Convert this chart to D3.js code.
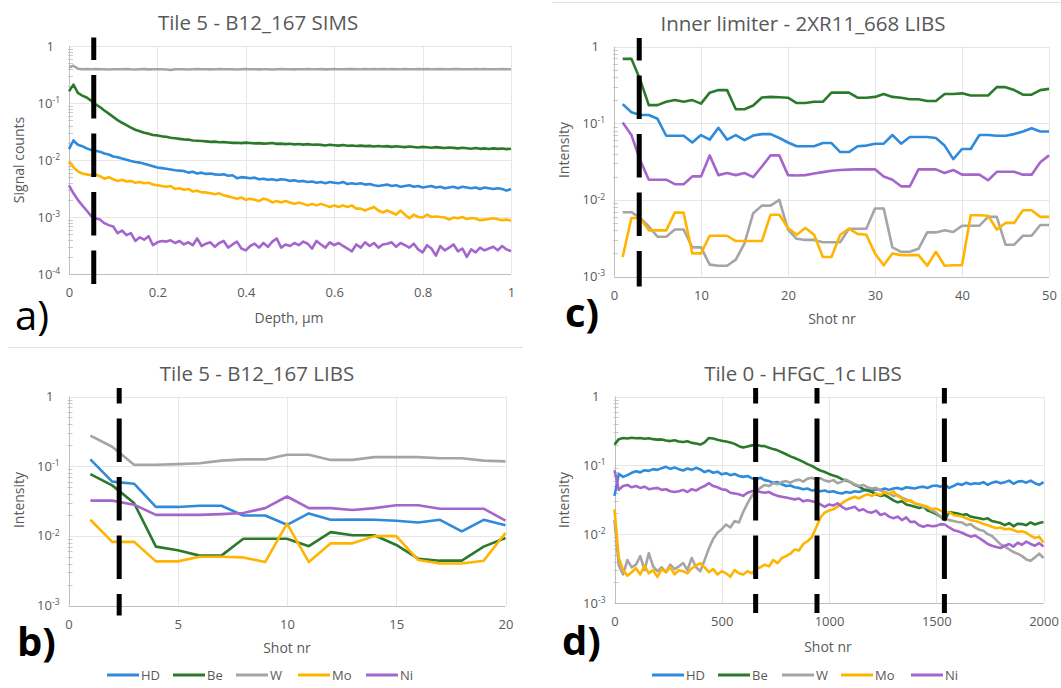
<!DOCTYPE html>
<html>
<head>
<meta charset="utf-8">
<script src="https://cdnjs.cloudflare.com/ajax/libs/d3/7.8.5/d3.min.js"></script>
<style>
  body { margin: 0; background: #fff; }
  text { font-family: "Open Sans", sans-serif; fill: #595959; }
</style>
</head>
<body>
<div id="chart"></div>
<script>
// series shared by all panels
var seriesNames = ["HD", "Be", "W", "Mo", "Ni"]
var seriesColors = ["#2F8ADB", "#2B7A2B", "#A5A5A5", "#FFB400", "#A566CC"]

// a) SIMS depth profile, every 0.01 um
var depthA = d3.range(0, 101).map(function(i) { return i / 100 })
var hdA = [0.0155,
  0.022, 0.0185, 0.0175, 0.016, 0.015,  0.0145, 0.014, 0.013, 0.0125, 0.0115,
  0.0112, 0.0106, 0.0101, 0.0096, 0.0092,  0.009, 0.0086, 0.0082, 0.0078, 0.0074,
  0.0072, 0.007, 0.0068, 0.0066, 0.0065,  0.0064, 0.006, 0.0062, 0.0058, 0.006,
  0.0057, 0.0058, 0.0056, 0.0055, 0.0056,  0.0053, 0.0054, 0.0048, 0.005, 0.0049,
  0.0048, 0.0049, 0.0046, 0.0047, 0.0045,  0.0046, 0.0044, 0.0046, 0.0045, 0.0043,
  0.0044, 0.0042, 0.0043, 0.0041, 0.0042,  0.004, 0.0041, 0.0039, 0.0041, 0.004,
  0.0039, 0.0041, 0.0038, 0.0039, 0.0038,  0.0039, 0.0037, 0.0038, 0.0036, 0.0035,
  0.0036, 0.0037, 0.0035, 0.0036, 0.0034,  0.0035, 0.0036, 0.0034, 0.0035, 0.0033,
  0.0034, 0.0035, 0.0033, 0.0034, 0.0032,  0.0033, 0.0034, 0.0032, 0.0034, 0.0033,
  0.0032, 0.0033, 0.0031, 0.0033, 0.0032,  0.0031, 0.0032, 0.0031, 0.0029, 0.0031]
var beA = [0.16,
  0.21, 0.15, 0.135, 0.125, 0.11,  0.095, 0.085, 0.074, 0.065, 0.057,
  0.05, 0.045, 0.041, 0.037, 0.034,  0.032, 0.03, 0.029, 0.0275, 0.027,
  0.026, 0.0255, 0.0245, 0.024, 0.0235,  0.023, 0.0228, 0.022, 0.0218, 0.0215,
  0.0212, 0.0208, 0.021, 0.0205, 0.0206,  0.0203, 0.02, 0.0201, 0.0198, 0.0202,
  0.0199, 0.0196, 0.0198, 0.0194, 0.0196,  0.0199, 0.0192, 0.0194, 0.019, 0.0193,
  0.0188, 0.0191, 0.0186, 0.019, 0.0185,  0.0187, 0.0184, 0.018, 0.0185, 0.0182,
  0.0179, 0.0183, 0.0178, 0.018, 0.0176,  0.0179, 0.0175, 0.0177, 0.0172, 0.0176,
  0.0173, 0.0175, 0.017, 0.0174, 0.0171,  0.0168, 0.0172, 0.0169, 0.0166, 0.017,
  0.0167, 0.0164, 0.0168, 0.0165, 0.0162,  0.0166, 0.0163, 0.016, 0.0164, 0.0161,
  0.0158, 0.0162, 0.0157, 0.016, 0.0156,  0.016, 0.0157, 0.0159, 0.0155, 0.0158]
var wA = [0.42,
  0.45, 0.40, 0.39, 0.395, 0.39,  0.395, 0.39, 0.392, 0.388, 0.39,
  0.392, 0.39, 0.394, 0.39, 0.388,  0.39, 0.393, 0.389, 0.39, 0.392,
  0.39, 0.386, 0.38, 0.39, 0.392,  0.39, 0.388, 0.391, 0.393, 0.39,
  0.392, 0.389, 0.39, 0.394, 0.391,  0.39, 0.392, 0.388, 0.39, 0.393,
  0.39, 0.391, 0.389, 0.392, 0.39,  0.388, 0.391, 0.394, 0.39, 0.392,
  0.389, 0.392, 0.39, 0.394, 0.39,  0.391, 0.393, 0.389, 0.391, 0.395,
  0.392, 0.39, 0.393, 0.396, 0.392,  0.39, 0.393, 0.391, 0.394, 0.392,
  0.395, 0.391, 0.393, 0.39, 0.392,  0.394, 0.39, 0.392, 0.395, 0.391,
  0.393, 0.39, 0.392, 0.394, 0.391,  0.39, 0.393, 0.396, 0.392, 0.39,
  0.392, 0.394, 0.39, 0.393, 0.391,  0.39, 0.392, 0.394, 0.39, 0.392]
var moA = [0.0095,
  0.0075, 0.0063, 0.0058, 0.0056, 0.0054,  0.0056, 0.0052, 0.0047, 0.005, 0.0046,
  0.0043, 0.0045, 0.0042, 0.0043, 0.004,  0.0041, 0.0039, 0.004, 0.0037, 0.0036,
  0.0035, 0.0034, 0.0035, 0.0031, 0.0032,  0.003, 0.0031, 0.0028, 0.0029, 0.0027,
  0.0027, 0.0026, 0.0025, 0.0026, 0.0024,  0.0023, 0.0022, 0.0021, 0.0022, 0.002,
  0.0021, 0.002, 0.0019, 0.0021, 0.002,  0.0018, 0.0019, 0.0018, 0.0019, 0.0018,
  0.0017, 0.0018, 0.0017, 0.0016, 0.0017,  0.0016, 0.0017, 0.0016, 0.0015, 0.0016,
  0.0015, 0.0016, 0.0015, 0.0016, 0.0014,  0.0014, 0.0013, 0.0014, 0.0015, 0.0013,
  0.0012, 0.0013, 0.0012, 0.0011, 0.0013,  0.0011, 0.00095, 0.0011, 0.001, 0.00098,
  0.0011, 0.001, 0.00102, 0.001, 0.00098,  0.0009, 0.00098, 0.00095, 0.001, 0.00092,
  0.00096, 0.00094, 0.00088, 0.0009, 0.00092,  0.00095, 0.00091, 0.00088, 0.0009, 0.00086]
var niA = [0.0036,
  0.0026, 0.002, 0.0016, 0.0013, 0.00105,  0.00095, 0.0009, 0.00078, 0.00072, 0.00068,
  0.00052, 0.00058, 0.00048, 0.00052, 0.00038,  0.00044, 0.0004, 0.00046, 0.00032, 0.00036,
  0.00038, 0.00037, 0.00039, 0.00035, 0.00038,  0.00033, 0.00036, 0.00032, 0.00042, 0.00031,
  0.00034, 0.00036, 0.0003, 0.00035, 0.00038,  0.00029, 0.00033, 0.00037, 0.00028, 0.00026,
  0.00031, 0.00034, 0.00029, 0.00035, 0.0003,  0.00037, 0.00042, 0.00029, 0.00033, 0.00031,
  0.00035, 0.00032, 0.00037, 0.00034, 0.00028,  0.00038, 0.00033, 0.00029, 0.00036, 0.00032,
  0.00035, 0.00031, 0.00028, 0.00025, 0.00033,  0.00029, 0.00036, 0.00031, 0.00035, 0.00029,
  0.00033, 0.00034, 0.00036, 0.0003, 0.00035,  0.00032, 0.00029, 0.00034, 0.00027, 0.00024,
  0.00032, 0.00028, 0.00021, 0.00031, 0.00026,  0.00029, 0.00033, 0.00025, 0.00028, 0.0002,
  0.00027, 0.00024, 0.00029, 0.00026, 0.00028,  0.0003, 0.00026, 0.00031, 0.00027, 0.00025]

// b) LIBS, tile 5, shots 1-20
var shotsB = [1, 2, 3, 4, 5, 6, 7, 8, 9, 10, 11, 12, 13, 14, 15, 16, 17, 18, 19, 20]
var hdB = [0.125, 0.06, 0.056, 0.026, 0.026, 0.027, 0.027, 0.0196, 0.0196, 0.0144,
  0.021, 0.017, 0.0172, 0.017, 0.0165, 0.0155, 0.017, 0.0116, 0.017, 0.0142]
var beB = [0.077, 0.053, 0.0295, 0.007, 0.0062, 0.0052, 0.0052, 0.0091, 0.0091, 0.0091,
  0.0071, 0.0113, 0.0102, 0.0102, 0.0074, 0.0047, 0.0044, 0.0044, 0.007, 0.0093]
var wB = [0.275, 0.19, 0.105, 0.105, 0.107, 0.11, 0.12, 0.125, 0.125, 0.146,
  0.146, 0.123, 0.123, 0.135, 0.135, 0.135, 0.13, 0.13, 0.12, 0.117]
var moB = [0.017, 0.0082, 0.0082, 0.0043, 0.0043, 0.005, 0.005, 0.0049, 0.0042, 0.015,
  0.0042, 0.0078, 0.0078, 0.0099, 0.0099, 0.0045, 0.004, 0.004, 0.0044, 0.011]
var niB = [0.032, 0.032, 0.028, 0.02, 0.02, 0.02, 0.0205, 0.0213, 0.025, 0.0367,
  0.025, 0.025, 0.0235, 0.025, 0.0275, 0.0275, 0.0245, 0.0245, 0.0245, 0.0165]

// c) LIBS, inner limiter, shots 1-50
var shotsC = d3.range(1, 51)
var hdC = [0.177, 0.139, 0.128, 0.128, 0.114, 0.0685, 0.0685, 0.0685, 0.056, 0.07,
  0.061, 0.087, 0.061, 0.07, 0.06, 0.069, 0.072, 0.072, 0.064, 0.056,
  0.05, 0.05, 0.05, 0.055, 0.055, 0.042, 0.042, 0.05, 0.051, 0.054,
  0.054, 0.07, 0.054, 0.066, 0.066, 0.066, 0.064, 0.051, 0.034, 0.046,
  0.046, 0.07, 0.07, 0.0685, 0.0685, 0.072, 0.078, 0.086, 0.078, 0.078]
var beC = [0.69, 0.69, 0.37, 0.172, 0.172, 0.19, 0.2, 0.19, 0.2, 0.18,
  0.25, 0.27, 0.27, 0.152, 0.152, 0.17, 0.216, 0.22, 0.218, 0.215,
  0.183, 0.183, 0.19, 0.19, 0.25, 0.25, 0.25, 0.215, 0.215, 0.22,
  0.24, 0.22, 0.215, 0.205, 0.205, 0.195, 0.195, 0.24, 0.24, 0.245,
  0.23, 0.23, 0.23, 0.295, 0.295, 0.27, 0.235, 0.235, 0.27, 0.28]
var wC = [0.0069, 0.0069, 0.0058, 0.0045, 0.0033, 0.0033, 0.0041, 0.0041, 0.0024, 0.0024,
  0.00143, 0.00138, 0.00138, 0.00166, 0.0027, 0.0067, 0.0084, 0.0084, 0.01, 0.0041,
  0.0031, 0.003, 0.003, 0.0028, 0.0028, 0.0028, 0.0042, 0.0042, 0.0042, 0.0077,
  0.0077, 0.0024, 0.0021, 0.0021, 0.0023, 0.00376, 0.00376, 0.004, 0.0038, 0.0046,
  0.0046, 0.0046, 0.006, 0.006, 0.0026, 0.0026, 0.0034, 0.0034, 0.0047, 0.0047]
var moC = [0.0018, 0.0058, 0.0058, 0.004, 0.004, 0.004, 0.0068, 0.0068, 0.002, 0.002,
  0.0034, 0.0034, 0.0034, 0.0029, 0.0029, 0.0029, 0.0029, 0.0064, 0.0064, 0.0043,
  0.0035, 0.0043, 0.0035, 0.0018, 0.0018, 0.0035, 0.0042, 0.0036, 0.0035, 0.002,
  0.0014, 0.002, 0.0019, 0.0019, 0.0019, 0.00138, 0.0021, 0.00138, 0.0014, 0.0014,
  0.0063, 0.0063, 0.0062, 0.0041, 0.005, 0.005, 0.0073, 0.0073, 0.006, 0.006]
var niC = [0.102, 0.07, 0.033, 0.0183, 0.0183, 0.0183, 0.016, 0.016, 0.0202, 0.0202,
  0.038, 0.021, 0.0224, 0.021, 0.0224, 0.0198, 0.0272, 0.038, 0.038, 0.021,
  0.0208, 0.021, 0.022, 0.023, 0.024, 0.0245, 0.0248, 0.025, 0.025, 0.025,
  0.0202, 0.0183, 0.015, 0.015, 0.025, 0.025, 0.025, 0.0224, 0.0245, 0.0213,
  0.0213, 0.0213, 0.018, 0.0232, 0.0232, 0.0232, 0.0213, 0.0213, 0.031, 0.038]

// d) LIBS, tile 0, every 20 shots
var shotsD = d3.range(0, 2001, 20)
var hdD = [0.036,
  0.075, 0.068, 0.072, 0.078, 0.082,  0.079, 0.085, 0.083, 0.088, 0.086,
  0.091, 0.095, 0.089, 0.093, 0.088,  0.084, 0.09, 0.086, 0.092, 0.087,
  0.08, 0.084, 0.078, 0.081, 0.074,  0.077, 0.072, 0.075, 0.07, 0.068,
  0.07, 0.065, 0.063, 0.066, 0.061,  0.059, 0.056, 0.057, 0.053, 0.05,
  0.051, 0.048, 0.047, 0.045, 0.046,  0.043, 0.044, 0.042, 0.043, 0.041,
  0.042, 0.04, 0.039, 0.041, 0.04,  0.042, 0.041, 0.043, 0.044, 0.043,
  0.045, 0.044, 0.046, 0.044, 0.046,  0.047, 0.045, 0.048, 0.047, 0.046,
  0.048, 0.049, 0.047, 0.05, 0.051,  0.049, 0.052, 0.047, 0.05, 0.054,
  0.052, 0.056, 0.053, 0.055, 0.054,  0.057, 0.052, 0.056, 0.058, 0.055,
  0.057, 0.06, 0.054, 0.058, 0.059,  0.056, 0.06, 0.055, 0.052, 0.057]
var beD = [0.2,
  0.24, 0.25, 0.245, 0.252, 0.247,  0.25, 0.243, 0.248, 0.24, 0.236,
  0.238, 0.23, 0.225, 0.232, 0.222,  0.218, 0.224, 0.212, 0.208, 0.2,
  0.215, 0.25, 0.245, 0.235, 0.228,  0.222, 0.215, 0.205, 0.19, 0.182,
  0.188, 0.195, 0.198, 0.192, 0.19,  0.18, 0.172, 0.165, 0.155, 0.145,
  0.135, 0.128, 0.12, 0.112, 0.104,  0.098, 0.09, 0.084, 0.08, 0.075,
  0.071, 0.068, 0.063, 0.06, 0.057,  0.052, 0.049, 0.045, 0.043, 0.041,
  0.038, 0.036, 0.037, 0.034, 0.031,  0.029, 0.03, 0.027, 0.026, 0.025,
  0.024, 0.025, 0.022, 0.021, 0.0195,  0.018, 0.016, 0.021, 0.0205, 0.02,
  0.019, 0.0195, 0.018, 0.0175, 0.017,  0.0165, 0.017, 0.0155, 0.015, 0.0145,
  0.0135, 0.0145, 0.013, 0.0142, 0.014,  0.0135, 0.0148, 0.0138, 0.0145, 0.015]
var wD = [0.016,
  0.0035, 0.0026, 0.0042, 0.0033, 0.0036,  0.0048, 0.003, 0.0053, 0.0034, 0.0029,
  0.0033, 0.0028, 0.0036, 0.0031, 0.0034,  0.0038, 0.003, 0.0045, 0.0033, 0.0029,
  0.0042, 0.0062, 0.0085, 0.0105, 0.0118,  0.0138, 0.0125, 0.0155, 0.0148, 0.021,
  0.028, 0.036, 0.042, 0.047, 0.052,  0.05, 0.055, 0.053, 0.057, 0.059,
  0.056, 0.06, 0.062, 0.058, 0.064,  0.066, 0.062, 0.065, 0.06, 0.058,
  0.061, 0.055, 0.058, 0.062, 0.057,  0.053, 0.05, 0.052, 0.048, 0.046,
  0.047, 0.043, 0.041, 0.039, 0.036,  0.037, 0.034, 0.032, 0.03, 0.028,
  0.027, 0.025, 0.024, 0.022, 0.0205,  0.018, 0.017, 0.016, 0.0155, 0.015,
  0.0148, 0.0135, 0.014, 0.0125, 0.0116,  0.0112, 0.01, 0.0094, 0.0082, 0.0071,
  0.0066, 0.006, 0.0055, 0.0052, 0.0048,  0.0043, 0.0041, 0.0046, 0.0052, 0.0045]
var moD = [0.023,
  0.0045, 0.003, 0.0025, 0.0028, 0.0032,  0.0026, 0.0035, 0.0027, 0.003, 0.0024,
  0.0031, 0.0028, 0.0033, 0.0026, 0.003,  0.0029, 0.0027, 0.0032, 0.0035, 0.0038,
  0.0033, 0.0028, 0.0031, 0.0026, 0.0029,  0.0027, 0.0024, 0.003, 0.0027, 0.0026,
  0.0029, 0.0027, 0.0031, 0.0033, 0.0036,  0.0034, 0.0042, 0.0038, 0.0045, 0.0048,
  0.0052, 0.006, 0.0058, 0.0072, 0.0079,  0.009, 0.0125, 0.0175, 0.0205, 0.022,
  0.023, 0.025, 0.028, 0.031, 0.033,  0.035, 0.033, 0.036, 0.038, 0.036,
  0.039, 0.037, 0.041, 0.038, 0.042,  0.036, 0.033, 0.03, 0.031, 0.028,
  0.027, 0.026, 0.025, 0.023, 0.0235,  0.022, 0.0205, 0.021, 0.019, 0.0185,
  0.018, 0.017, 0.016, 0.0155, 0.015,  0.014, 0.0135, 0.0128, 0.0122, 0.0125,
  0.0118, 0.012, 0.0115, 0.0108, 0.011,  0.0105, 0.0095, 0.0088, 0.0092, 0.0075]
var niD = [0.085,
  0.044, 0.05, 0.052, 0.048, 0.05,  0.047, 0.049, 0.045, 0.046, 0.047,
  0.044, 0.045, 0.042, 0.041, 0.042,  0.044, 0.041, 0.045, 0.043, 0.047,
  0.05, 0.055, 0.05, 0.048, 0.045,  0.044, 0.04, 0.039, 0.038, 0.036,
  0.04, 0.042, 0.043, 0.041, 0.04,  0.041, 0.038, 0.036, 0.035, 0.034,
  0.033, 0.032, 0.033, 0.03, 0.031,  0.03, 0.029, 0.027, 0.025, 0.027,
  0.026, 0.028, 0.025, 0.023, 0.024,  0.025, 0.022, 0.023, 0.021, 0.0205,
  0.022, 0.019, 0.02, 0.018, 0.017,  0.018, 0.016, 0.0175, 0.015, 0.0152,
  0.0135, 0.0128, 0.0135, 0.013, 0.0132,  0.014, 0.0138, 0.0125, 0.0115, 0.011,
  0.0105, 0.0098, 0.0092, 0.0096, 0.0088,  0.008, 0.0072, 0.0068, 0.0065, 0.0063,
  0.0068, 0.0072, 0.0066, 0.0075, 0.007,  0.0078, 0.0072, 0.0068, 0.0074, 0.0066]

var panels = [
  {letter: "a)", letterX: 15, letterY: 330, bold: false,
   title: "Tile 5 - B12_167 SIMS", titleX: 258, titleY: 30,
   left: 69, right: 511, top: 46, bottom: 274, yMin: 1e-4,
   xDomain: [0, 1], xTicks: [0, 0.2, 0.4, 0.6, 0.8, 1],
   xTitle: "Depth, µm", xTitleX: 289, xTitleY: 323,
   yTitle: "Signal counts", yTitleX: 19, yTitleY: 160,
   xs: depthA, series: [hdA, beA, wA, moA, niA],
   marks: [0.056], dashOffset: 21, legendY: null},
  {letter: "c)", letterX: 565, letterY: 327, bold: true,
   title: "Inner limiter - 2XR11_668 LIBS", titleX: 803, titleY: 31,
   left: 614, right: 1049, top: 46.5, bottom: 276.5, yMin: 1e-3,
   xDomain: [0, 50], xTicks: [0, 10, 20, 30, 40, 50],
   xTitle: "Shot nr", xTitleX: 832, xTitleY: 324,
   yTitle: "Intensity", yTitleX: 564, yTitleY: 150,
   xs: shotsC, series: [hdC, beC, wC, moC, niC],
   marks: [2.9], dashOffset: 21, legendY: null},
  {letter: "b)", letterX: 17, letterY: 656, bold: true,
   title: "Tile 5 - B12_167 LIBS", titleX: 257, titleY: 381,
   left: 68.5, right: 505.5, top: 396.5, bottom: 605.5, yMin: 1e-3,
   xDomain: [0, 20], xTicks: [0, 5, 10, 15, 20],
   xTitle: "Shot nr", xTitleX: 287, xTitleY: 653,
   yTitle: "Intensity", yTitleX: 19, yTitleY: 500,
   xs: shotsB, series: [hdB, beB, wB, moB, niB],
   marks: [2.32], dashOffset: 28, legendY: 675, legendX: [107, 173, 236, 298, 366]},
  {letter: "d)", letterX: 562, letterY: 655, bold: true,
   title: "Tile 0 - HFGC_1c LIBS", titleX: 803, titleY: 381,
   left: 614.5, right: 1043.5, top: 396.5, bottom: 603, yMin: 1e-3,
   xDomain: [0, 2000], xTicks: [0, 500, 1000, 1500, 2000],
   xTitle: "Shot nr", xTitleX: 828, xTitleY: 652,
   yTitle: "Intensity", yTitleX: 564, yTitleY: 500,
   xs: shotsD, series: [hdD, beD, wD, moD, niD],
   marks: [658, 944, 1538], dashOffset: 28, legendY: 675, legendX: [652, 718, 782, 841, 911]}
]

var svg = d3.select("#chart")
  .append("svg")
  .attr("width", 1061)
  .attr("height", 688)

// faint frame edges left over from the separate excel charts
svg.append("line").attr("x1", 8).attr("x2", 523).attr("y1", 347.5).attr("y2", 347.5)
  .style("stroke", "#E2E2E2")
svg.append("line").attr("x1", 552).attr("x2", 1061).attr("y1", 2.5).attr("y2", 2.5)
  .style("stroke", "#E2E2E2")

function drawPanel(p) {
  var x = d3.scaleLinear().domain(p.xDomain).range([p.left, p.right])
  var y = d3.scaleLog().domain([p.yMin, 1]).range([p.bottom, p.top])
  var g = svg.append("g")

  var decades = y.ticks().filter(function(d) { return Math.abs(Math.log10(d) - Math.round(Math.log10(d))) < 1e-9 })
  var minors = y.ticks().filter(function(d) { return Math.abs(Math.log10(d) - Math.round(Math.log10(d))) > 1e-9 })

  // gridlines
  g.selectAll(".hgrid").data(decades).enter().append("line")
    .attr("x1", p.left).attr("x2", p.right)
    .attr("y1", function(d) { return Math.round(y(d)) + 0.5 })
    .attr("y2", function(d) { return Math.round(y(d)) + 0.5 })
    .style("stroke", "#E6E6E6")
  g.selectAll(".vgrid").data(p.xTicks.slice(1)).enter().append("line")
    .attr("x1", function(d) { return Math.round(x(d)) + 0.5 })
    .attr("x2", function(d) { return Math.round(x(d)) + 0.5 })
    .attr("y1", p.top).attr("y2", p.bottom)
    .style("stroke", "#E6E6E6")

  // minor log ticks
  g.selectAll(".minor").data(minors).enter().append("line")
    .attr("x1", p.left - 1).attr("x2", p.left + 4)
    .attr("y1", function(d) { return Math.round(y(d)) + 0.5 })
    .attr("y2", function(d) { return Math.round(y(d)) + 0.5 })
    .style("stroke", "#C8C8C8")

  // axis lines
  g.append("line").attr("x1", Math.round(p.left) + 0.5).attr("x2", Math.round(p.left) + 0.5)
    .attr("y1", p.top).attr("y2", p.bottom).style("stroke", "#BFBFBF")
  g.append("line").attr("x1", p.left).attr("x2", p.right)
    .attr("y1", Math.round(p.bottom) + 0.5).attr("y2", Math.round(p.bottom) + 0.5).style("stroke", "#BFBFBF")

  // x tick labels
  var xAxis = g.append("g")
    .attr("transform", "translate(0," + p.bottom + ")")
    .call(d3.axisBottom(x).tickValues(p.xTicks).tickSize(0).tickPadding(14)
      .tickFormat(function(d) { return d }))
  xAxis.select(".domain").remove()
  xAxis.selectAll("text").style("font-size", "13px").style("fill", "#595959")
    .style("font-family", "'Open Sans', sans-serif")

  // y tick labels, 1 and 10^-n
  var yl = g.selectAll(".ylab").data(decades).enter().append("text")
    .attr("x", function(d) { return d === 1 ? p.left - 15 : p.left - 9 })
    .attr("y", function(d) { return y(d) })
    .attr("dy", "0.35em")
    .attr("text-anchor", "end")
    .style("font-size", "13px")
    .text(function(d) { return d === 1 ? "1" : "10" })
  yl.filter(function(d) { return d !== 1 }).append("tspan")
    .attr("dy", "-0.55em")
    .style("font-size", "8.5px")
    .text(function(d) { return String(Math.round(Math.log10(d))) })

  // series lines
  var line = d3.line()
    .x(function(d) { return x(d[0]) })
    .y(function(d) { return y(d[1]) })
  p.series.forEach(function(vals, i) {
    g.append("path")
      .datum(p.xs.map(function(v, j) { return [v, vals[j]] }))
      .attr("d", line)
      .style("fill", "none")
      .style("stroke", seriesColors[i])
      .style("stroke-width", 2.6)
      .style("stroke-linejoin", "round")
  })

  // thick dashed markers
  g.selectAll(".mark").data(p.marks).enter().append("line")
    .attr("x1", function(d) { return x(d) }).attr("x2", function(d) { return x(d) })
    .attr("y1", p.top - 8.5).attr("y2", p.bottom + 10)
    .style("stroke", "#000")
    .style("stroke-width", 5)
    .style("stroke-dasharray", "43.5,15")
    .style("stroke-dashoffset", p.dashOffset)

  // titles
  g.append("text").attr("x", p.titleX).attr("y", p.titleY)
    .attr("text-anchor", "middle").style("font-size", "20.5px")
    .text(p.title)
  g.append("text").attr("x", p.xTitleX).attr("y", p.xTitleY)
    .attr("text-anchor", "middle").style("font-size", "14px")
    .text(p.xTitle)
  g.append("text")
    .attr("transform", "translate(" + p.yTitleX + "," + p.yTitleY + ") rotate(-90)")
    .attr("dy", "0.35em")
    .attr("text-anchor", "middle").style("font-size", "14px")
    .text(p.yTitle)

  // panel letter
  g.append("text").attr("x", p.letterX).attr("y", p.letterY)
    .style("font-size", "40px")
    .style("font-weight", p.bold ? "bold" : "normal")
    .style("fill", "#000")
    .text(p.letter)

  // legend
  if (p.legendY) {
    var items = g.selectAll(".leg").data(seriesNames).enter().append("g")
    items.append("line")
      .attr("x1", function(d, i) { return p.legendX[i] })
      .attr("x2", function(d, i) { return p.legendX[i] + 32 })
      .attr("y1", p.legendY).attr("y2", p.legendY)
      .style("stroke", function(d, i) { return seriesColors[i] })
      .style("stroke-width", 3)
    items.append("text")
      .attr("x", function(d, i) { return p.legendX[i] + 34 })
      .attr("y", p.legendY)
      .attr("dy", "0.35em")
      .style("font-size", "13px")
      .text(function(d) { return d })
  }
}

panels.forEach(drawPanel)
</script>
</body>
</html>
